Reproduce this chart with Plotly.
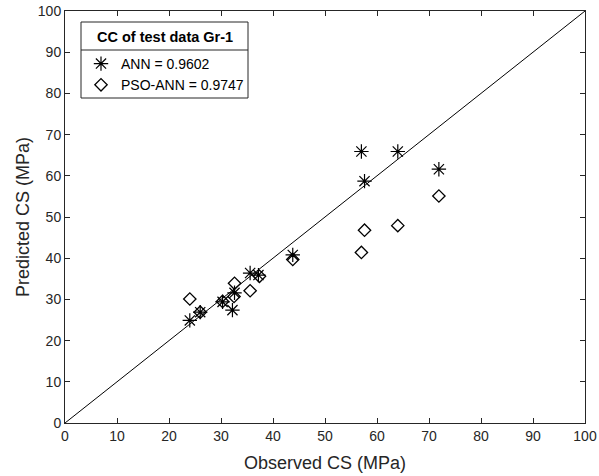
import plotly.graph_objects as go

# Data
ann_obs = [24.0, 26.0, 30.3, 32.2, 32.6, 35.6, 37.2, 43.8, 57.0, 57.6, 64.0, 71.9]
ann_pred = [24.9, 26.9, 29.4, 27.4, 31.6, 36.4, 35.9, 40.8, 65.9, 58.7, 65.9, 61.6]
pso_obs = [24.0, 26.0, 30.3, 32.6, 32.5, 35.6, 37.4, 43.8, 57.0, 57.6, 64.0, 71.9]
pso_pred = [30.1, 26.9, 29.5, 33.9, 30.7, 32.1, 35.6, 39.7, 41.4, 46.8, 47.9, 55.1]
ann_name = "ANN = 0.9602"
pso_name = "PSO-ANN = 0.9747"
legend_title = "CC of test data Gr-1"
diag = [0, 100]

W, H = 599, 476
ML, MR, MT, MB = 65, 14, 11, 53
PW, PH = W - ML - MR, H - MT - MB


def px_x(p):
    return (p - ML) / PW


def px_y(p):
    return (H - MB - p) / PH


fig = go.Figure()
fig.add_trace(go.Scatter(x=diag, y=diag, mode="lines",
                         line=dict(color="black", width=1), showlegend=False,
                         hoverinfo="skip"))
fig.add_trace(go.Scatter(x=ann_obs, y=ann_pred, mode="markers", name=ann_name,
                         marker=dict(symbol="asterisk-open", size=12, color="black",
                                     line=dict(color="black", width=1.2))))
fig.add_trace(go.Scatter(x=pso_obs, y=pso_pred, mode="markers", name=pso_name,
                         marker=dict(symbol="diamond-open", size=9.5,
                                     color="black",
                                     line=dict(color="black", width=1.3))))

axis_common = dict(range=[0, 100], dtick=10, ticks="inside", ticklen=5,
                   tickcolor="#262626", linecolor="#262626", linewidth=1,
                   mirror="ticks", showgrid=False, zeroline=False,
                   automargin=False,
                   tickfont=dict(size=14, color="#262626"))
fig.update_xaxes(**axis_common, title=dict(text="Observed CS (MPa)",
                                           font=dict(size=18, color="#262626"),
                                           standoff=13))
fig.update_yaxes(**axis_common, title=dict(text="Predicted CS (MPa)",
                                           font=dict(size=18, color="#262626"),
                                           standoff=3))

# legend frame, separator and title
bx0, bx1, by0, by1, sep = 81, 248, 22, 98, 50
fig.add_shape(type="rect", xref="paper", yref="paper",
              x0=px_x(bx0), x1=px_x(bx1), y0=px_y(by1), y1=px_y(by0),
              line=dict(color="#262626", width=1), fillcolor="white", layer="above")
fig.add_shape(type="line", xref="paper", yref="paper",
              x0=px_x(bx0), x1=px_x(bx1), y0=px_y(sep), y1=px_y(sep),
              line=dict(color="#262626", width=1), layer="above")
fig.add_annotation(xref="paper", yref="paper", x=px_x((bx0 + bx1) / 2), y=px_y(37),
                   text="<b>" + legend_title + "</b>", showarrow=False,
                   xanchor="center", yanchor="middle",
                   font=dict(size=14.5, color="black"))

fig.update_layout(
    width=W, height=H,
    margin=dict(l=ML, r=MR, t=MT, b=MB),
    plot_bgcolor="white", paper_bgcolor="white",
    font=dict(family="Liberation Sans, Arial, sans-serif", color="#262626"),
    legend=dict(x=px_x(81), y=px_y(48), xanchor="left", yanchor="top",
                bgcolor="rgba(0,0,0,0)", borderwidth=0,
                font=dict(size=14, color="black"),
                tracegroupgap=0),
)

fig.write_html("out.html", config={"displayModeBar": False},
               post_script="document.body.style.margin='0';")
